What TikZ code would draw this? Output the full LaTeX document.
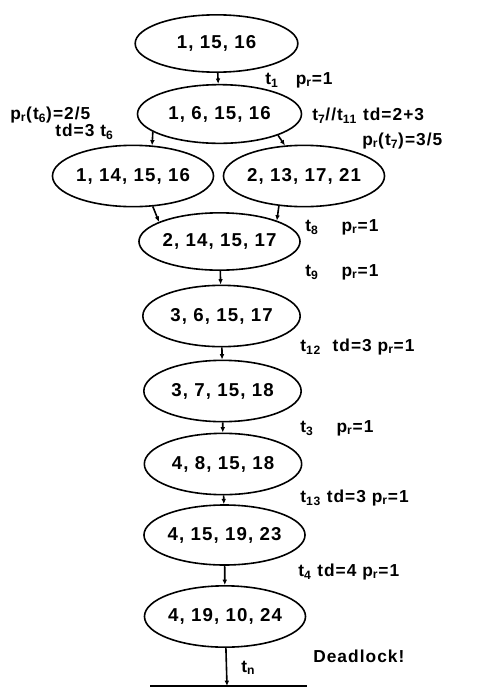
\documentclass[tikz,border=0pt]{standalone}
\usepackage{fontspec}
\setmainfont{Liberation Sans}
\newfontfamily\spacedfont[LetterSpace=6]{Liberation Sans}
\usetikzlibrary{shapes.geometric,arrows.meta,positioning}

\begin{document}
\begin{tikzpicture}[x=0.75pt, y=-0.75pt,
    state/.style={draw, ellipse, line width=1.2pt, inner sep=0pt, minimum width=118pt,
                  minimum height=46pt, font=\fontsize{14}{16}\spacedfont\bfseries},
    lbl/.style={font=\fontsize{13}{15}\spacedfont\bfseries, inner sep=0pt, anchor=west},
    conn/.style={line width=1.2pt, -{Latex[length=4pt, width=3.5pt]}}]
  \useasboundingbox (0,0) rectangle (485,689);

  % reachable markings
  \node[state, minimum width=122pt, minimum height=43pt] (m1) at (216.5,43.5) {1, 15, 16};
  \node[state, minimum width=123pt, minimum height=44pt] (m2) at (219.5,114) {1, 6, 15, 16};
  \node[state, minimum width=116pt] (m3) at (133,176) {1, 14, 15, 16};
  \node[state, minimum width=116pt] (m4) at (304,176) {2, 13, 17, 21};
  \node[state, minimum width=116pt, minimum height=43pt] (m5) at (219.5,241.5) {2, 14, 15, 17};
  \node[state] (m6) at (221.5,316) {3, 6, 15, 17};
  \node[state] (m7) at (222.5,391) {3, 7, 15, 18};
  \node[state] (m8) at (223,464) {4, 8, 15, 18};
  \node[state, minimum height=45pt] (m9) at (224.5,535) {4, 15, 19, 23};
  \node[state] (m10) at (225,616.5) {4, 19, 10, 24};
  \coordinate (dl) at (227,686);
  \coordinate (barl) at (150,686);
  \coordinate (barr) at (307,686);

  % firings
  \draw[conn] (m1) -- (m2);
  \draw[conn] (m2.195) -- (m3.58);
  \draw[conn] (m2.340) -- (m4.122);
  \draw[conn] (m3.303) -- (m5.162);
  \draw[conn] (m4.230) -- (m5.20);
  \draw[conn] (m5) -- (m6);
  \draw[conn] (m6) -- (m7);
  \draw[conn] (m7) -- (m8);
  \draw[conn] (m8) -- (m9);
  \draw[conn] (m9) -- (m10);
  \draw[conn] (m10) -- (dl);
  \draw[line width=1.2pt] (barl) -- (barr);

  % labels
  \node[lbl] (l1) at (265,80) {t\textsubscript{1}\quad p\textsubscript{r}=1};
  \node[lbl] (l2) at (10,115) {p\textsubscript{r}(t\textsubscript{6})=2/5};
  \node[lbl] (l3) at (55,132) {td=3 t\textsubscript{6}};
  \node[lbl] (l4) at (312,116) {t\textsubscript{7}//t\textsubscript{11} td=2+3};
  \node[lbl] (l5) at (362,141) {p\textsubscript{r}(t\textsubscript{7})=3/5};
  \node[lbl] (l6) at (305,227) {t\textsubscript{8}\quad\ p\textsubscript{r}=1};
  \node[lbl] (l7) at (305,272) {t\textsubscript{9}\quad\ p\textsubscript{r}=1};
  \node[lbl] (l8) at (300,347) {t\textsubscript{12}\ \ td=3 p\textsubscript{r}=1};
  \node[lbl] (l9) at (300,428) {t\textsubscript{3}\quad\ p\textsubscript{r}=1};
  \node[lbl] (l10) at (300,498) {t\textsubscript{13} td=3 p\textsubscript{r}=1};
  \node[lbl] (l11) at (298,572) {t\textsubscript{4} td=4 p\textsubscript{r}=1};
  \node[lbl] (l12) at (313,656) {Deadlock!};
  \node[lbl] (l13) at (241,668) {t\textsubscript{n}};
\end{tikzpicture}
\end{document}
